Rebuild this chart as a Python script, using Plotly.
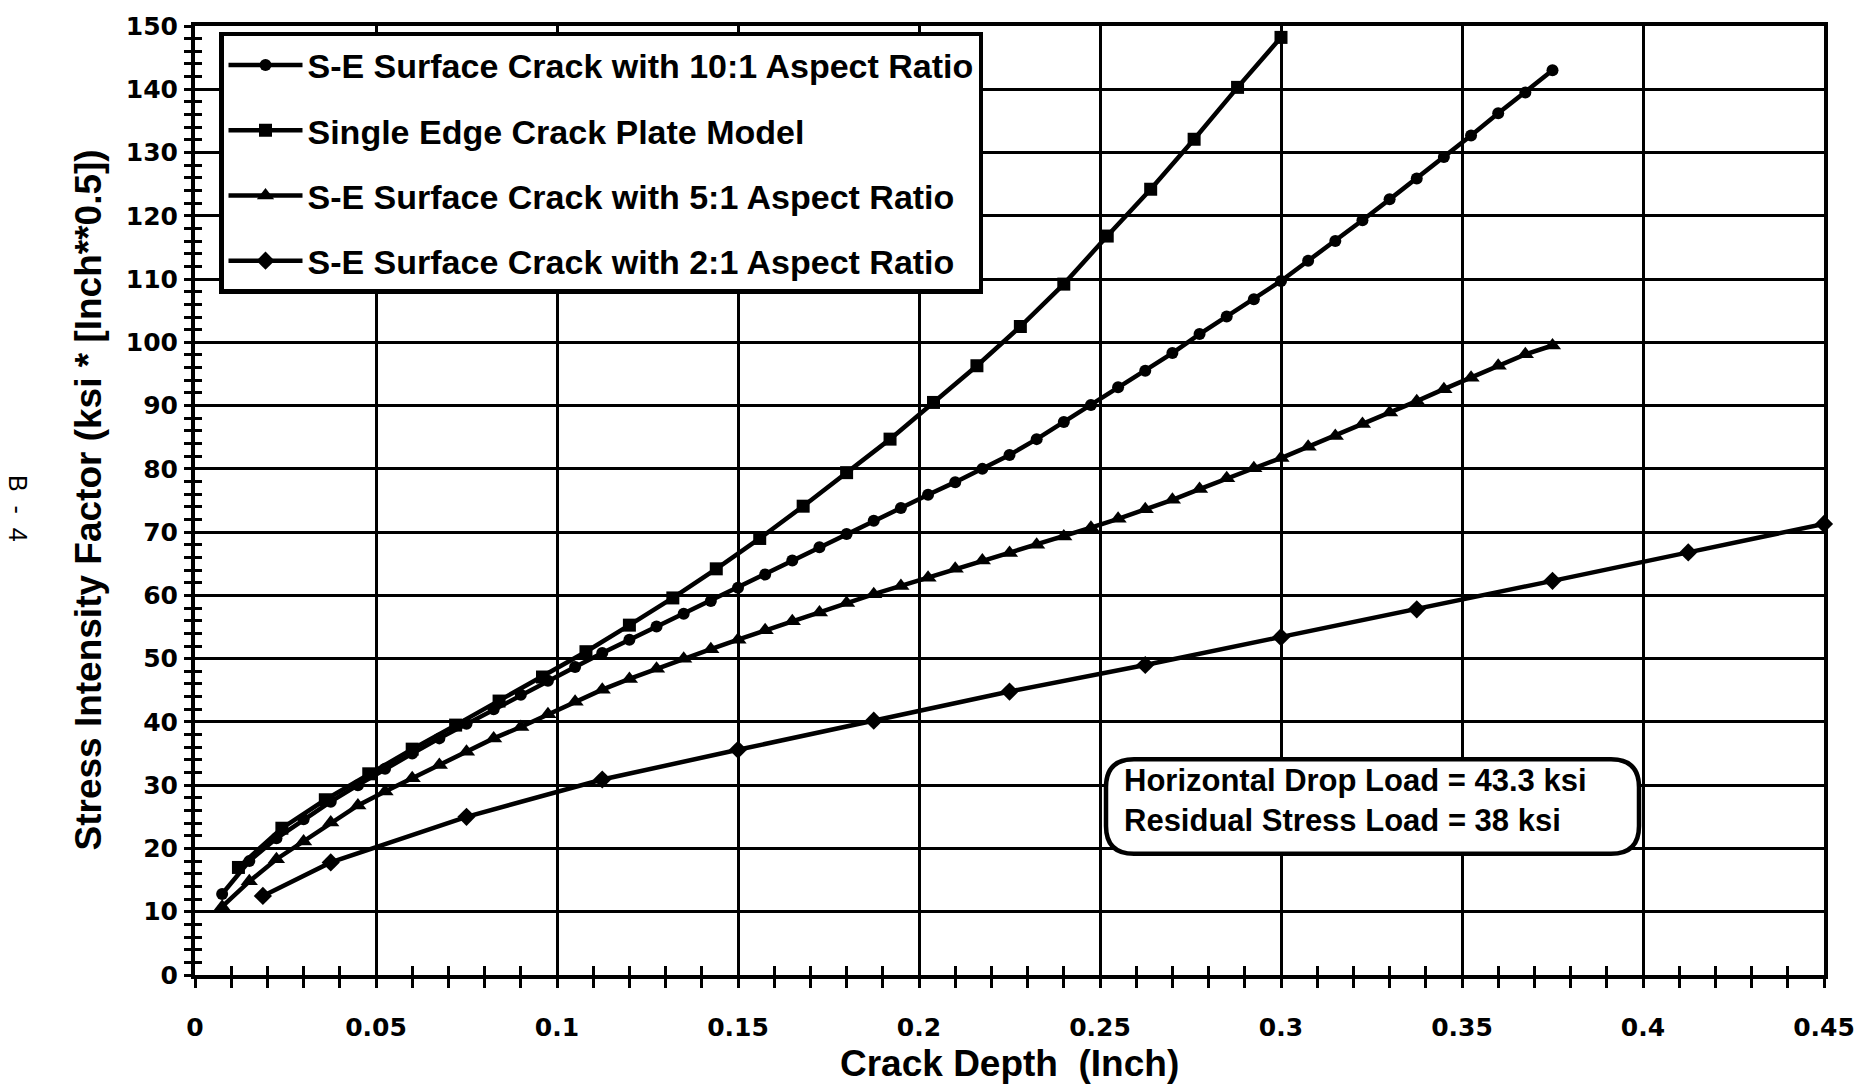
import plotly.graph_objects as go

# ---------------- data ----------------
x_10to1 = [round(0.0075 * k, 4) for k in range(1, 51)]
k_10to1 = [12.8, 18.0, 21.6, 24.6, 27.4, 30.0, 32.6, 35.0, 37.4, 39.7,
           42.0, 44.3, 46.5, 48.7, 50.9, 53.0, 55.1, 57.1, 59.1, 61.2,
           63.3, 65.5, 67.6, 69.7, 71.8, 73.8, 75.9, 77.9, 80.0, 82.2,
           84.7, 87.4, 90.1, 92.9, 95.5, 98.3, 101.3, 104.1, 106.8, 109.7,
           112.9, 116.0, 119.3, 122.6, 125.9, 129.3, 132.7, 136.2, 139.5, 143.0]

x_secp = [round(0.012 * k, 3) for k in range(1, 26)]
k_secp = [17.0, 23.2, 27.7, 31.8, 35.7, 39.5, 43.3, 47.1, 51.1, 55.3,
          59.6, 64.2, 69.0, 74.1, 79.4, 84.7, 90.5, 96.3, 102.5, 109.2,
          116.8, 124.2, 132.1, 140.3, 148.2]

x_5to1 = [round(0.0075 * k, 4) for k in range(1, 51)]
k_5to1 = [10.8, 14.8, 18.3, 21.1, 24.1, 26.8, 29.0, 31.1, 33.2, 35.3,
          37.4, 39.2, 41.2, 43.2, 45.1, 46.8, 48.4, 50.0, 51.5, 53.0,
          54.5, 55.9, 57.3, 58.8, 60.2, 61.5, 62.8, 64.2, 65.5, 66.7,
          68.0, 69.3, 70.7, 72.1, 73.6, 75.1, 76.8, 78.5, 80.1, 81.7,
          83.5, 85.2, 87.1, 88.9, 90.7, 92.6, 94.4, 96.3, 98.1, 99.5]

x_2to1 = [0.01875, 0.0375, 0.075, 0.1125, 0.15, 0.1875, 0.225,
          0.2625, 0.3, 0.3375, 0.375, 0.4125, 0.45]
k_2to1 = [12.5, 17.8, 25.0, 30.9, 35.6, 40.2, 44.8,
          49.0, 53.4, 57.8, 62.3, 66.8, 71.3]

names = ["S-E Surface Crack with 10:1 Aspect Ratio",
         "Single Edge Crack Plate Model",
         "S-E Surface Crack with 5:1 Aspect Ratio",
         "S-E Surface Crack with 2:1 Aspect Ratio"]

x_ticks = [0, 0.05, 0.1, 0.15, 0.2, 0.25, 0.3, 0.35, 0.4, 0.45]
x_ticktext = ["0", "0.05", "0.1", "0.15", "0.2", "0.25", "0.3", "0.35", "0.4", "0.45"]
y_ticks = list(range(0, 151, 10))

note_lines = ["Horizontal Drop Load = 43.3 ksi", "Residual Stress Load = 38 ksi"]

# ---------------- figure ----------------
FONT = "Liberation Sans"
TICKFONT = "DejaVu Sans"
series = [
    (x_10to1, k_10to1, "circle", 12),
    (x_secp, k_secp, "square", 13),
    (x_5to1, k_5to1, "triangle-up", 15),
    (x_2to1, k_2to1, "diamond", 14),
]

fig = go.Figure()
for i, (xs, ys, sym, sz) in enumerate(series):
    fig.add_trace(go.Scatter(
        x=xs, y=ys, mode="lines+markers", name=names[i],
        legendgroup=f"g{i}",
        line=dict(color="black", width=4.5),
        marker=dict(symbol=sym, size=sz, color="black"),
        cliponaxis=False,
    ))

# overlay axes to make ticks cross the axis lines
fig.add_trace(go.Scatter(x=[0], y=[0], xaxis="x2", yaxis="y2",
                         mode="markers", marker=dict(opacity=0),
                         showlegend=False, hoverinfo="skip"))

W, H = 1875, 1088
ml, mr, mt, mb = 195, 51, 20, 113
pw, ph = W - ml - mr, H - mt - mb

def px(x):
    return (x - ml) / pw

def py(y):
    return (H - mb - y) / ph

fig.update_layout(
    width=W, height=H,
    margin=dict(l=ml, r=mr, t=mt, b=mb),
    paper_bgcolor="white", plot_bgcolor="white",
    font=dict(family=FONT, color="black"),
    xaxis=dict(
        range=[0, 0.45], tickvals=x_ticks, ticktext=x_ticktext,
        showgrid=True, gridcolor="black", gridwidth=2.5,
        showline=True, linecolor="black", linewidth=4, mirror=True,
        ticks="outside", ticklen=9, tickwidth=2.5, tickcolor="black",
        minor=dict(dtick=0.01, ticks="outside", ticklen=9, tickwidth=2.5,
                   tickcolor="black", showgrid=False),
        tickfont=dict(family=TICKFONT, size=25, weight="bold"),
        ticklabelstandoff=18,
        zeroline=False,
    ),
    yaxis=dict(
        range=[0, 150], tickvals=y_ticks,
        showgrid=True, gridcolor="black", gridwidth=2.5,
        showline=True, linecolor="black", linewidth=4, mirror=True,
        ticks="outside", ticklen=7, tickwidth=2.5, tickcolor="black",
        minor=dict(dtick=2, ticks="outside", ticklen=7, tickwidth=2.5,
                   tickcolor="black", showgrid=False),
        tickfont=dict(family=TICKFONT, size=25, weight="bold"),
        ticklabelstandoff=1,
        zeroline=False,
    ),
    xaxis2=dict(range=[0, 0.45], overlaying="x", side="bottom", anchor="y",
                showgrid=False, showticklabels=False, zeroline=False,
                tickvals=x_ticks, ticks="inside", ticklen=9, tickwidth=2.5,
                tickcolor="black",
                minor=dict(dtick=0.01, ticks="inside", ticklen=9, tickwidth=2.5,
                           tickcolor="black")),
    yaxis2=dict(range=[0, 150], overlaying="y", side="left", anchor="x",
                showgrid=False, showticklabels=False, zeroline=False,
                tickvals=y_ticks, ticks="inside", ticklen=7, tickwidth=2.5,
                tickcolor="black",
                minor=dict(dtick=2, ticks="inside", ticklen=7, tickwidth=2.5,
                           tickcolor="black")),
    legend=dict(
        x=px(219), y=py(26), xanchor="left", yanchor="top",
        bgcolor="white", bordercolor="black", borderwidth=4.5,
        font=dict(family=FONT, size=34, weight="bold", color="black"),
        itemwidth=74, tracegroupgap=18, traceorder="grouped",
        itemclick=False,
    ),
    showlegend=True,
)

# axis titles
fig.add_annotation(
    x=0.5, y=py(1064), xref="paper", yref="paper",
    text="Crack Depth  (Inch)", showarrow=False,
    xanchor="center", yanchor="middle",
    font=dict(family=FONT, size=37, weight="bold"),
)
fig.add_annotation(
    x=px(88), y=0.5, xref="paper", yref="paper",
    text="Stress Intensity Factor (ksi * [Inch**0.5])", showarrow=False,
    textangle=-90, xanchor="center", yanchor="middle",
    font=dict(family=FONT, size=37, weight="bold"),
)
# page marker
fig.add_annotation(
    x=px(18), y=py(505), xref="paper", yref="paper",
    text="B  -  4", showarrow=False, textangle=90,
    xanchor="center", yanchor="middle",
    font=dict(family=FONT, size=25),
)

# rounded note box
bx0, bx1, by0, by1 = px(1106), px(1639), py(853), py(758)
rx, ry = 28 / pw, 28 / ph
path = (f"M {bx0+rx},{by1} L {bx1-rx},{by1} Q {bx1},{by1} {bx1},{by1-ry} "
        f"L {bx1},{by0+ry} Q {bx1},{by0} {bx1-rx},{by0} "
        f"L {bx0+rx},{by0} Q {bx0},{by0} {bx0},{by0+ry} "
        f"L {bx0},{by1-ry} Q {bx0},{by1} {bx0+rx},{by1} Z")
fig.add_shape(type="path", path=path, xref="paper", yref="paper",
              line=dict(color="black", width=4.5), fillcolor="white", layer="above")
fig.add_annotation(
    x=px(1122), y=py(799), xref="paper", yref="paper",
    text="<br>".join(note_lines), showarrow=False, align="left",
    xanchor="left", yanchor="middle",
    font=dict(family=FONT, size=31, weight="bold"),
)

fig.write_html("out.html")
